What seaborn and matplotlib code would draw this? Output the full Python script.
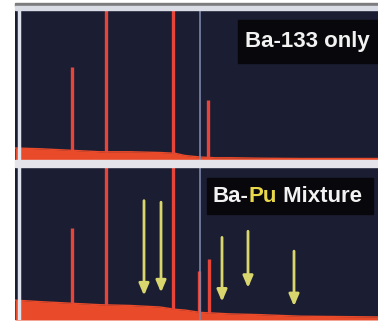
import numpy as np
import matplotlib
matplotlib.use("Agg")
import matplotlib.pyplot as plt
import matplotlib.patches as patches
import seaborn as sns

# spectrum data (channel, relative counts; 100 = panel top)
base_ch = [0, 25, 55, 85, 115, 145, 160, 170, 185, 200, 215, 245, 285, 363]
base_top = [8, 7.5, 6.5, 5.5, 5.5, 5, 4.5, 3, 2, 1.5, 1.5, 1.2, 1, 1]
base_bot = [13, 12, 11, 10, 9.5, 8.5, 7, 6.5, 5, 4.5, 4, 3.5, 2.5, 2]

ba_peaks_ch = [57, 91, 158, 193]
ba_peaks_h = [62, 110, 110, 40]

mix_peaks_ch = [57, 91, 158, 184, 194]
mix_peaks_h = [60, 110, 110, 32, 40]

# Pu lines marked with arrows: channel, arrow tail, arrow tip
pu_ch = [129, 146, 207, 233, 279]
pu_tail = [78, 77, 54, 58, 45]
pu_tip = [16, 18, 12, 21, 9]

cursor_ch = 185
left_ch = 4

navy = "#1b1e33"
red = "#e8453a"
base_col = "#e84a2a"
yellow = "#d8d66c"

sns.set_style("dark", {"axes.facecolor": navy, "figure.facecolor": "white"})
plt.rcParams['font.family'] = ['Liberation Sans', 'DejaVu Sans']

fig = plt.figure(figsize=(3.78, 3.22), dpi=100)
ax_top = fig.add_axes([15/378, (322-160)/322, 363/378, 150/322])
ax_bot = fig.add_axes([15/378, 2/322, 363/378, 153/322])

# frame bands
fig.patches.append(patches.Rectangle((15/378, 316/322), 363/378, 3/322,
                                     transform=fig.transFigure, color="#7d7d80", zorder=0))
fig.patches.append(patches.Rectangle((15/378, 312/322), 363/378, 4/322,
                                     transform=fig.transFigure, color="#d9dce4", zorder=0))
fig.patches.append(patches.Rectangle((15/378, 155/322), 363/378, 7/322,
                                     transform=fig.transFigure, color="#e4e4ea", zorder=0))

def draw_panel(ax, base, pk_ch, pk_h):
    sns.lineplot(x=base_ch, y=base, ax=ax, color=base_col, lw=1)
    ax.fill_between(base_ch, 0, base, color=base_col, lw=0)
    bvals = np.interp(pk_ch, base_ch, base)
    ax.vlines(pk_ch, bvals, pk_h, color=red, lw=2.4)
    ax.axvline(left_ch, color="#dfe3ee", lw=2.5)
    ax.axvline(cursor_ch, color="#7c86a8", lw=1.2)
    ax.set_xlim(0, 363)
    ax.set_ylim(0, 100)
    ax.set_xticks([])
    ax.set_yticks([])
    ax.set_xlabel("")
    ax.set_ylabel("")
    for s in ax.spines.values():
        s.set_visible(False)

draw_panel(ax_top, base_top, ba_peaks_ch, ba_peaks_h)
draw_panel(ax_bot, base_bot, mix_peaks_ch, mix_peaks_h)

for c, t0, t1 in zip(pu_ch, pu_tail, pu_tip):
    ax_bot.annotate("", xy=(c, t1), xytext=(c, t0),
                    arrowprops=dict(arrowstyle="-|>,head_width=0.3,head_length=0.7",
                                    color=yellow, lw=2, shrinkA=0, shrinkB=0))

# labels
ax_top.add_patch(patches.Rectangle((0.614, 0.647), 0.386, 0.286,
                                   transform=ax_top.transAxes, color="#08080c", zorder=3))
ax_top.text(0.806, 0.787, "Ba-133 only", transform=ax_top.transAxes, color="#f2f2f2",
            fontsize=16, fontweight="bold", ha="center", va="center", zorder=4)

ax_bot.add_patch(patches.Rectangle((0.529, 0.693), 0.457, 0.235,
                                   transform=ax_bot.transAxes, color="#08080c", zorder=3))
t1 = ax_bot.text(0.545, 0.81, "Ba-", transform=ax_bot.transAxes, color="#f2f2f2",
                 fontsize=16, fontweight="bold", ha="left", va="center", zorder=4)
t2 = ax_bot.annotate("Pu", xycoords=t1, xy=(1, 0), va="bottom", color="#e8d84a",
                     fontsize=16, fontweight="bold", zorder=4)
ax_bot.annotate(" Mixture", xycoords=t2, xy=(1, 0), va="bottom", color="#f2f2f2",
                fontsize=16, fontweight="bold", zorder=4)

plt.savefig("out.png", dpi=100)
plt.close()
